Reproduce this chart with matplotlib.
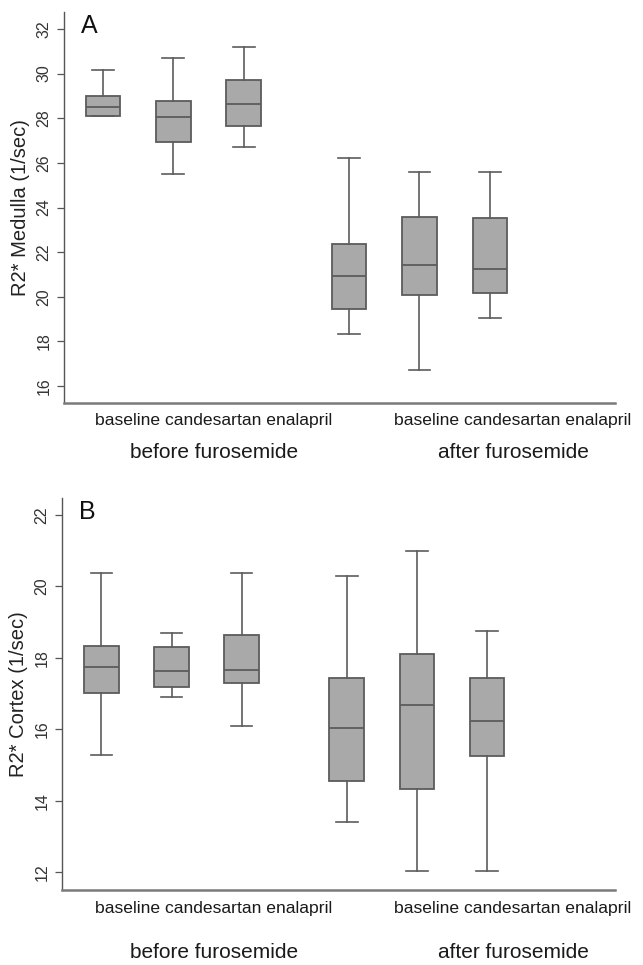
import matplotlib
matplotlib.use("Agg")
import matplotlib.pyplot as plt

plt.rcParams['font.family'] = ['Liberation Sans', 'DejaVu Sans']

W, H = 643, 965

treatments = ['baseline', 'candesartan', 'enalapril']
phases = ['before furosemide', 'after furosemide']
positions = [1, 2, 3, 4.5, 5.5, 6.5]

# R2* medulla, per box: before (baseline, candesartan, enalapril), after (...)
medulla_whislo = [28.09, 25.51, 26.72, 18.33, 16.70, 19.07]
medulla_q1 = [28.12, 26.93, 27.67, 19.45, 20.06, 20.16]
medulla_med = [28.52, 28.05, 28.63, 20.91, 21.43, 21.24]
medulla_q3 = [29.01, 28.78, 29.70, 22.36, 23.57, 23.54]
medulla_whishi = [30.18, 30.70, 31.19, 26.22, 25.60, 25.60]

# R2* cortex
cortex_whislo = [15.29, 16.89, 16.10, 13.40, 12.02, 12.02]
cortex_q1 = [17.01, 17.17, 17.29, 14.56, 14.32, 15.26]
cortex_med = [17.74, 17.63, 17.67, 16.03, 16.68, 16.22]
cortex_q3 = [18.34, 18.30, 18.65, 17.44, 18.11, 17.44]
cortex_whishi = [20.36, 18.70, 20.36, 20.29, 21.00, 18.75]

EDGE = '#5c5c5c'
FILL = '#a9a9a9'


def px(x, y):
    return x / W, 1 - y / H


def draw_panel(fig, rect, lo, q1, med, q3, hi, ylim, yticks, ylabel, letter,
               xlim, label_y, title_y):
    left, top, right, bottom = rect
    ax = fig.add_axes([left / W, 1 - bottom / H, (right - left) / W, (bottom - top) / H])
    stats = []
    for i in range(len(positions)):
        stats.append({'whislo': lo[i], 'q1': q1[i], 'med': med[i],
                      'q3': q3[i], 'whishi': hi[i], 'fliers': []})
    ax.bxp(stats, positions=positions, widths=0.49, capwidths=0.31,
           showfliers=False, patch_artist=True,
           boxprops=dict(facecolor=FILL, edgecolor=EDGE, linewidth=1.3),
           medianprops=dict(color=EDGE, linewidth=1.3),
           whiskerprops=dict(color=EDGE, linewidth=1.2),
           capprops=dict(color=EDGE, linewidth=1.2))
    ax.set_xlim(*xlim)
    ax.set_ylim(*ylim)
    ax.set_yticks(yticks)
    ax.set_yticklabels([str(t) for t in yticks], rotation=90, va='center',
                       fontsize=11.5, color='#333333')
    ax.set_xticks([])
    ax.tick_params(axis='y', length=5, width=0.9, color='#555555', pad=4)
    for s in ['top', 'right']:
        ax.spines[s].set_visible(False)
    ax.spines['left'].set_color('#555555')
    ax.spines['left'].set_linewidth(1.0)
    ax.spines['bottom'].set_color('#7a7a7a')
    ax.spines['bottom'].set_linewidth(1.8)
    ax.set_ylabel(ylabel, fontsize=14.5, color='#222222', labelpad=5)
    ax.text(0.03, 0.995, letter, transform=ax.transAxes, fontsize=18,
            va='top', ha='left', color='#111111')

    for cx, ph in zip([214, 513], phases):
        fig.text(*px(cx, label_y), ' '.join(treatments), ha='center', va='center',
                 fontsize=12.6, color='#1a1a1a')
        fig.text(*px(cx, title_y), ph, ha='center', va='center',
                 fontsize=15, color='#1a1a1a')
    return ax


fig = plt.figure(figsize=(W / 100, H / 100), dpi=100)

draw_panel(fig, (64, 12, 615, 403), medulla_whislo, medulla_q1, medulla_med,
           medulla_q3, medulla_whishi, (15.24, 32.76), [16, 18, 20, 22, 24, 26, 28, 30, 32],
           'R2* Medulla (1/sec)', 'A', (0.445, 8.28), 421, 452)

draw_panel(fig, (62, 498, 615, 890), cortex_whislo, cortex_q1, cortex_med,
           cortex_q3, cortex_whishi, (11.50, 22.47), [12, 14, 16, 18, 20, 22],
           'R2* Cortex (1/sec)', 'B', (0.437, 8.33), 909, 952)

fig.savefig('out.png', dpi=100)
